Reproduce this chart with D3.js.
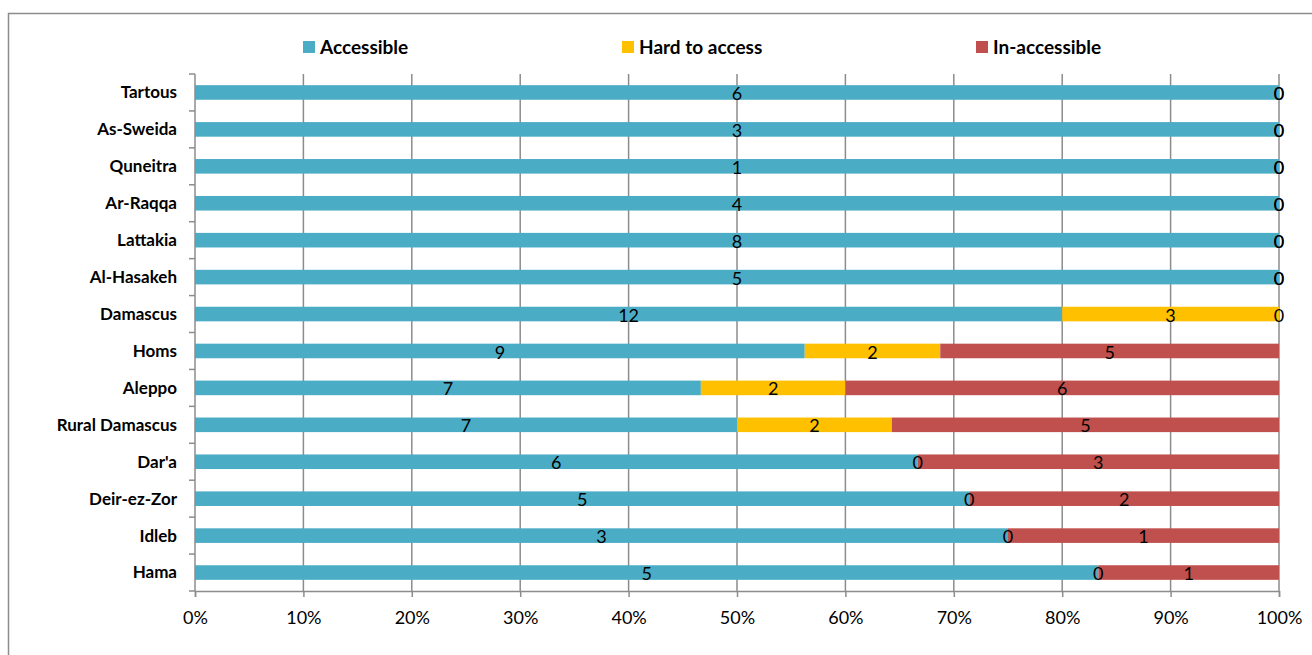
<!DOCTYPE html>
<html>
<head>
<meta charset="utf-8">
<script src="https://cdn.jsdelivr.net/npm/d3@7/dist/d3.min.js"></script>
<style>
  html, body { margin: 0; padding: 0; background: #fff; }
  svg { display: block; font-family: Lato, "Open Sans", sans-serif; }
</style>
</head>
<body>
<svg id="chart" width="1312" height="655"></svg>
<script>
// Governorates, top to bottom
const governorates = ["Tartous", "As-Sweida", "Quneitra", "Ar-Raqqa", "Lattakia", "Al-Hasakeh",
  "Damascus", "Homs", "Aleppo", "Rural Damascus", "Dar'a", "Deir-ez-Zor", "Idleb", "Hama"];

// Counts per access status
const accessible   = [6, 3, 1, 4, 8, 5, 12, 9, 7, 7, 6, 5, 3, 5];
const hardToAccess = [0, 0, 0, 0, 0, 0, 3, 2, 2, 2, 0, 0, 0, 0];
const inaccessible = [0, 0, 0, 0, 0, 0, 0, 5, 6, 5, 3, 2, 1, 1];

const seriesNames = ["Accessible", "Hard to access", "In-accessible"];
const seriesColors = ["#4BACC6", "#FFC000", "#C0504D"];
const xTicks = [0, 0.1, 0.2, 0.3, 0.4, 0.5, 0.6, 0.7, 0.8, 0.9, 1];

const rows = governorates.map((g, i) => ({
  name: g,
  "Accessible": accessible[i],
  "Hard to access": hardToAccess[i],
  "In-accessible": inaccessible[i]
}));

const svg = d3.select("#chart");
const W = 1312, H = 655;
const margin = { left: 195, right: W - 1279, top: 74, bottom: H - 591 };

// outer chart frame
svg.append("rect")
  .attr("x", 8.5).attr("y", 13.5)
  .attr("width", W + 20).attr("height", H + 20)
  .attr("fill", "none").attr("stroke", "#8c8c8c").attr("stroke-width", 1.5);

const x = d3.scaleLinear().domain([0, 1]).range([margin.left, W - margin.right]);
const y = d3.scaleBand().domain(governorates).range([margin.top, H - margin.bottom])
  .paddingInner(0.605).paddingOuter(0.3025);

const stack = d3.stack().keys(seriesNames).offset(d3.stackOffsetExpand);
const layers = stack(rows);

// vertical gridlines
svg.append("g").selectAll("line").data(xTicks.slice(1)).join("line")
  .attr("x1", d => x(d)).attr("x2", d => x(d))
  .attr("y1", margin.top).attr("y2", H - margin.bottom)
  .attr("stroke", "#8c8c8c").attr("stroke-width", 1.5);

// bars
const gBars = svg.append("g");
layers.forEach((layer, li) => {
  gBars.append("g").attr("fill", seriesColors[li])
    .selectAll("rect").data(layer).join("rect")
    .attr("x", d => x(d[0]))
    .attr("width", d => x(d[1]) - x(d[0]))
    .attr("y", d => y(d.data.name))
    .attr("height", y.bandwidth());
});

// x axis
const xAxis = svg.append("g")
  .attr("transform", `translate(0,${H - margin.bottom})`)
  .call(d3.axisBottom(x).tickValues(xTicks).tickFormat(d3.format(".0%")).tickSize(6).tickPadding(14));
xAxis.select(".domain").attr("stroke", "#8c8c8c").attr("stroke-width", 1.5);
xAxis.selectAll(".tick line").attr("stroke", "#8c8c8c").attr("stroke-width", 1.5);
xAxis.selectAll("text").attr("font-size", 18).attr("fill", "#000")
  .attr("font-family", "Lato, sans-serif");

// y axis with ticks at band boundaries
const yAxis = svg.append("g").attr("transform", `translate(${margin.left},0)`);
yAxis.append("line")
  .attr("x1", 0).attr("x2", 0).attr("y1", margin.top).attr("y2", H - margin.bottom)
  .attr("stroke", "#8c8c8c").attr("stroke-width", 1.5);
const step = y.step();
const boundaries = d3.range(governorates.length + 1).map(i => margin.top + i * step);
yAxis.selectAll("line.tk").data(boundaries).join("line").attr("class", "tk")
  .attr("x1", -6).attr("x2", 0).attr("y1", d => d).attr("y2", d => d)
  .attr("stroke", "#8c8c8c").attr("stroke-width", 1.5);
yAxis.selectAll("text").data(governorates).join("text")
  .attr("x", -18)
  .attr("y", d => y(d) + y.bandwidth() / 2)
  .attr("dy", "0.35em")
  .attr("text-anchor", "end")
  .attr("font-size", 17).attr("font-weight", "bold").attr("fill", "#000")
  .text(d => d);

// data labels centred on each segment
const gLabels = svg.append("g").attr("font-size", 18).attr("fill", "#000").attr("text-anchor", "middle");
layers.forEach((layer, li) => {
  gLabels.append("g").selectAll("text").data(layer).join("text")
    .attr("x", d => x((d[0] + d[1]) / 2))
    .attr("y", d => y(d.data.name) + y.bandwidth() / 2)
    .attr("dy", "0.42em")
    .text(d => d.data[seriesNames[li]]);
});

// legend
const legendX = [303, 622, 976];
const legend = svg.append("g");
seriesNames.forEach((s, i) => {
  legend.append("rect").attr("x", legendX[i]).attr("y", 41).attr("width", 12).attr("height", 12)
    .attr("fill", seriesColors[i]);
  legend.append("text").attr("x", legendX[i] + 17).attr("y", 47).attr("dy", "0.36em")
    .attr("font-size", 19).attr("font-weight", "bold").attr("fill", "#000").text(s);
});
</script>
</body>
</html>
